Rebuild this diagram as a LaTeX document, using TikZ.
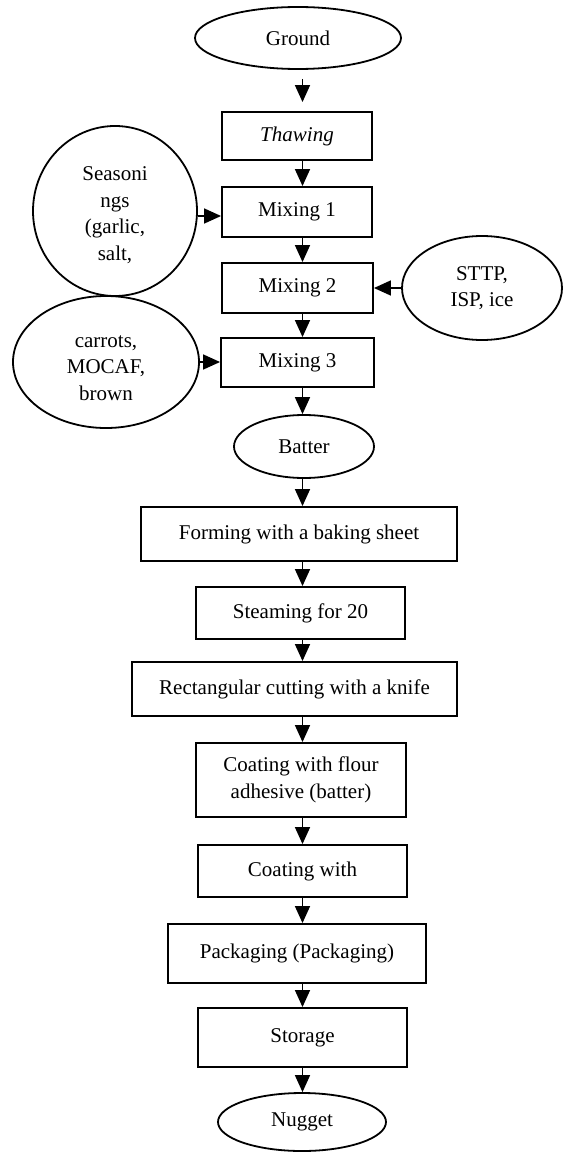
\documentclass[tikz,border=0pt]{standalone}
\usepackage{fontspec}
\setmainfont{Liberation Serif}
\usetikzlibrary{shapes.geometric,arrows.meta}
\begin{document}
\begin{tikzpicture}[x=1pt,y=-1pt,
  every node/.style={font=\fontsize{21}{26.5}\selectfont, inner sep=0pt, align=center},
  stepbox/.style n args={2}{draw, line width=1.9pt, rectangle, minimum width=#1, minimum height=#2},
  oval/.style n args={2}{draw, line width=1.8pt, ellipse, minimum width=#1, minimum height=#2},
  arr/.style={line width=1.6pt, -{Triangle[width=15pt,length=17pt]}}]
\useasboundingbox (0,0) rectangle (562,1153);
\coordinate (axis) at (302.5,0);
\coordinate (sa) at (0,216);
% main column
\node[oval={206pt}{62pt}] (ground) at (298,38) {Ground};
\node[stepbox={150pt}{48pt}] (thaw) at (297,136) {\textit{Thawing}};
\node[stepbox={150pt}{50pt}] (m1) at (297,212) {Mixing 1};
\node[stepbox={151pt}{50pt}] (m2) at (297.5,288) {Mixing 2};
\node[stepbox={153pt}{49pt}] (m3) at (297.5,362.5) {Mixing 3};
\node[oval={140pt}{63pt}] (batter) at (304,446.5) {Batter};
\node[stepbox={316pt}{54pt}] (form) at (299,534) {Forming with a baking sheet};
\node[stepbox={209pt}{52pt}] (steam) at (300.5,613) {Steaming for 20};
\node[stepbox={325pt}{54pt}] (cut) at (294.5,689) {Rectangular cutting with a knife};
\node[stepbox={210pt}{74pt}] (coat1) at (301,780) {Coating with flour\\adhesive (batter)};
\node[stepbox={209pt}{52pt}] (coat2) at (302.5,871) {Coating with};
\node[stepbox={258pt}{59pt}] (pack) at (297,953.5) {Packaging (Packaging)};
\node[stepbox={209pt}{59pt}] (store) at (302.5,1037.5) {Storage};
\node[oval={168pt}{58pt}] (nugget) at (302,1122) {Nugget};
% side inputs
\node[oval={164pt}{170pt}] (seas) at (115,211) {};
\node (seastext) at (115,215) {Seasoni\\ngs\\(garlic,\\salt,};
\node[oval={160pt}{104pt}] (sttp) at (482,288) {STTP,\\ISP, ice};
\node[oval={186pt}{132pt}] (car) at (106,362) {};
\begin{scope}
  \clip (0,0) rectangle (562,400);
  \node (cartext) at (106,368) {carrots,\\MOCAF,\\brown};
\end{scope}
% connectors
\draw[arr, shorten <=9pt, shorten >=9pt] (ground.south -| axis) -- (thaw.north -| axis);
\draw[arr] (thaw.south -| axis) -- (m1.north -| axis);
\draw[arr] (m1.south -| axis) -- (m2.north -| axis);
\draw[arr] (m2.south -| axis) -- (m3.north -| axis);
\draw[arr] (m3.south -| axis) -- (batter.north -| axis);
\draw[arr] (batter.south -| axis) -- (form.north -| axis);
\draw[arr] (form.south -| axis) -- (steam.north -| axis);
\draw[arr] (steam.south -| axis) -- (cut.north -| axis);
\draw[arr] (cut.south -| axis) -- (coat1.north -| axis);
\draw[arr] (coat1.south -| axis) -- (coat2.north -| axis);
\draw[arr] (coat2.south -| axis) -- (pack.north -| axis);
\draw[arr] (pack.south -| axis) -- (store.north -| axis);
\draw[arr] (store.south -| axis) -- (nugget.north -| axis);
\draw[arr] (sa -| seas.east) -- (sa -| m1.west);
\draw[arr] (sttp.west) -- (sttp.west -| m2.east);
\draw[arr] (car.east) -- (car.east -| m3.west);
\end{tikzpicture}
\end{document}
